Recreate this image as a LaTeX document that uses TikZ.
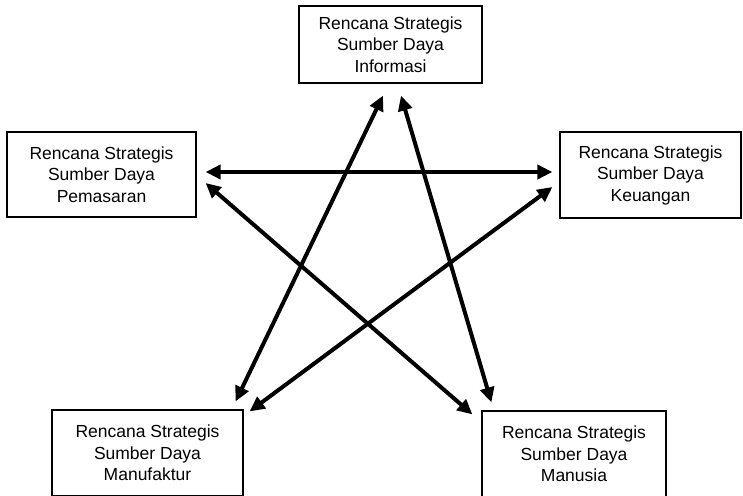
\documentclass[tikz,border=0pt]{standalone}
\usepackage{fontspec}
\setmainfont{Liberation Sans}
\usetikzlibrary{calc, positioning, arrows.meta}

\begin{document}
\begin{tikzpicture}[x=1pt, y=-1pt, >={Triangle[length=15pt, width=14pt]},
    box/.style={draw, line width=1.2pt, align=center, inner sep=0pt,
        font=\fontsize{17.5}{21.5}\selectfont},
    biarrow/.style={<->, line width=4pt}]
    \useasboundingbox (0,0) rectangle (743,495);

    % kotak rencana strategis
    \node[box, minimum width=183pt, minimum height=77pt] (informasi) at (390.5,44.5)
        {Rencana Strategis\\Sumber Daya\\Informasi};
    \node[box, minimum width=189pt, minimum height=85pt] (pemasaran) at (101.5,174.5)
        {Rencana Strategis\\Sumber Daya\\Pemasaran};
    \node[box, minimum width=181pt, minimum height=86pt] (keuangan) at (650.5,175)
        {Rencana Strategis\\Sumber Daya\\Keuangan};
    \node[box, minimum width=191pt, minimum height=86pt] (manufaktur) at (147.5,453)
        {Rencana Strategis\\Sumber Daya\\Manufaktur};
    \node[box, minimum width=184pt, minimum height=86pt] (manusia) at (574,454)
        {Rencana Strategis\\Sumber Daya\\Manusia};

    % panah dua arah
    \draw[biarrow] ($(pemasaran.east)+(9,-2.5)$) -- ($(keuangan.west)+(-7,-3)$);
    \draw[biarrow] ($(pemasaran.east)+(9,8.5)$) -- ($(manusia.north west)+(-9,4)$);
    \draw[biarrow] ($(informasi.south)+(-7.5,12)$) -- ($(manufaktur.north east)+(-8,-8)$);
    \draw[biarrow] ($(informasi.south)+(10.5,12)$) -- ($(manusia.north west)+(10,-8)$);
    \draw[biarrow] ($(keuangan.west)+(-7,12)$) -- ($(manufaktur.north east)+(6,2)$);

\end{tikzpicture}
\end{document}
